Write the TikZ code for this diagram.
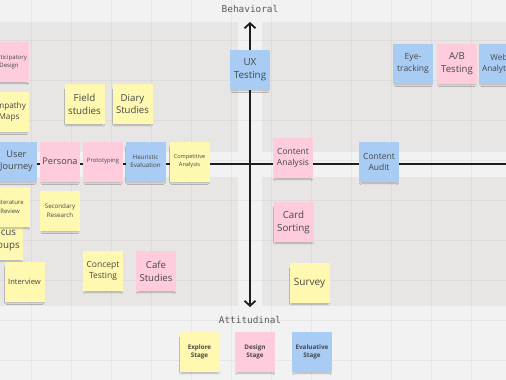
\documentclass[tikz,border=0pt]{standalone}
\usepackage{fontspec}
\setmainfont{Open Sans}
\newfontfamily\axisfont{DejaVu Sans Mono}
\usetikzlibrary{arrows.meta,shadows.blur}
\definecolor{bgc}{HTML}{F2F2F2}
\definecolor{quad}{HTML}{E7E6E4}
\definecolor{ny}{HTML}{FFF8B0}
\definecolor{np}{HTML}{FECCDD}
\definecolor{nb}{HTML}{A8CCF3}
\definecolor{txt}{HTML}{474747}
\definecolor{axisc}{HTML}{1E1E1E}
\definecolor{lblc}{HTML}{5A5A5A}
\tikzset{
  note/.style={minimum width=40pt, minimum height=40pt, inner sep=1pt, align=center, text=txt,
    blur shadow={shadow xshift=0pt, shadow yshift=-3.5pt, shadow scale=0.9, shadow opacity=28, shadow blur radius=2pt, shadow blur steps=6}},
  yel/.style={note, fill=ny},
  pnk/.style={note, fill=np},
  blu/.style={note, fill=nb},
  fs/.style 2 args={font=\fontsize{#1}{#2}\selectfont},
  leg/.style={font=\fontsize{6.3}{8.5}\selectfont\bfseries},
  axisline/.style={draw=axisc, line width=1.8pt},
  axislabel/.style={font=\axisfont\fontsize{9.4}{11}\selectfont, text=lblc},
  gridline/.style={draw=black, opacity=0.045, line width=0.8pt}
}
\begin{document}
\begin{tikzpicture}[x=1pt,y=-1pt]
\useasboundingbox (0,0) rectangle (506,380);
\clip (0,0) rectangle (506,380);
% background and quadrants
\fill[bgc] (0,0) rectangle (506,380);
\fill[quad] (-5,22) rectangle (238,152);
\fill[quad] (262,22) rectangle (511,152);
\fill[quad] (-5,177) rectangle (238,306);
\fill[quad] (262,177) rectangle (511,306);
% grid
\foreach \gx in {31,71,...,511} \draw[gridline] (\gx,0) -- (\gx,380);
\foreach \gy in {40,80,...,360} \draw[gridline] (0,\gy) -- (506,\gy);
% axes
\coordinate (axT) at (250,22);
\coordinate (axB) at (250,307);
\coordinate (axL) at (-5,164);
\coordinate (axR) at (511,164);
\draw[axisline, {Straight Barb[length=5pt,width=11pt,line width=1.8pt]}-{Straight Barb[length=5pt,width=11pt,line width=1.8pt]}] (axT) -- (axB);
\draw[axisline] (axL) -- (axR);
\node[axislabel] (beh) at (250,9) {Behavioral};
\node[axislabel] (att) at (250,319.5) {Attitudinal};
% top-left quadrant
\node[pnk, fs={6}{8}] (pd) at (9,62) {Participatory\\Design};
\node[yel, fs={8.2}{10.8}] (em) at (9,111.5) {Empathy\\Maps};
\node[yel, fs={9.8}{12.8}] (fi) at (84.5,104) {Field\\studies};
\node[yel, fs={9.6}{12.8}] (di) at (132.5,104) {Diary\\Studies};
\node[blu, fs={9.2}{12.2}] (uj) at (16.5,161.5) {User\\Journey};
\node[pnk, fs={9.2}{12.2}] (pe) at (60,161.5) {Persona};
\node[pnk, fs={5.9}{8}] (pr) at (103,161.5) {Prototyping};
\node[blu, fs={6.2}{8.4}] (he) at (145.5,161.5) {Heuristic\\Evaluation};
\node[yel, fs={5.6}{7.8}] (co) at (189.5,161.5) {Competitive\\Analysis};
% top-right quadrant
\node[blu, fs={9.8}{12.8}] (ux) at (250,69.5) {UX\\Testing};
\node[blu, fs={8.5}{11.5}] (ey) at (413,63.5) {Eye-\\tracking};
\node[pnk, fs={9.6}{12.8}] (ab) at (457,63.5) {A/B\\Testing};
\node[blu, fs={8.2}{11}] (wa) at (499,63.5) {Web\\Analytics};
\node[pnk, fs={8.5}{11.5}] (ca) at (293,158) {Content\\Analysis};
\node[blu, fs={8.5}{11.5}] (cau) at (379,162) {Content\\Audit};
% bottom-left quadrant
\node[yel, fs={9.8}{13}] (fg) at (3,240) {Focus\\Groups};
\node[yel, fs={6}{8.5}] (lr) at (10,207) {Literature\\Review};
\node[yel, fs={6.2}{8.5}] (sr) at (60,210.5) {Secondary\\Research};
\node[yel, fs={7.6}{10}] (iv) at (24.5,281.5) {Interview};
\node[yel, fs={8.5}{11.5}] (ct) at (103,271) {Concept\\Testing};
\node[pnk, fs={9.6}{12.8}] (cs) at (156,271) {Cafe\\Studies};
% bottom-right quadrant
\node[pnk, fs={9.8}{13}] (cso) at (293.5,222) {Card\\Sorting};
\node[yel, fs={10}{13}] (su) at (309.5,283) {Survey};
% legend
\node[yel, leg] (ex) at (199.5,352) {Explore\\Stage};
\node[pnk, leg] (ds) at (255,352) {Design\\Stage};
\node[blu, leg] (ev) at (312,352) {Evaluative\\Stage};
\end{tikzpicture}
\end{document}
